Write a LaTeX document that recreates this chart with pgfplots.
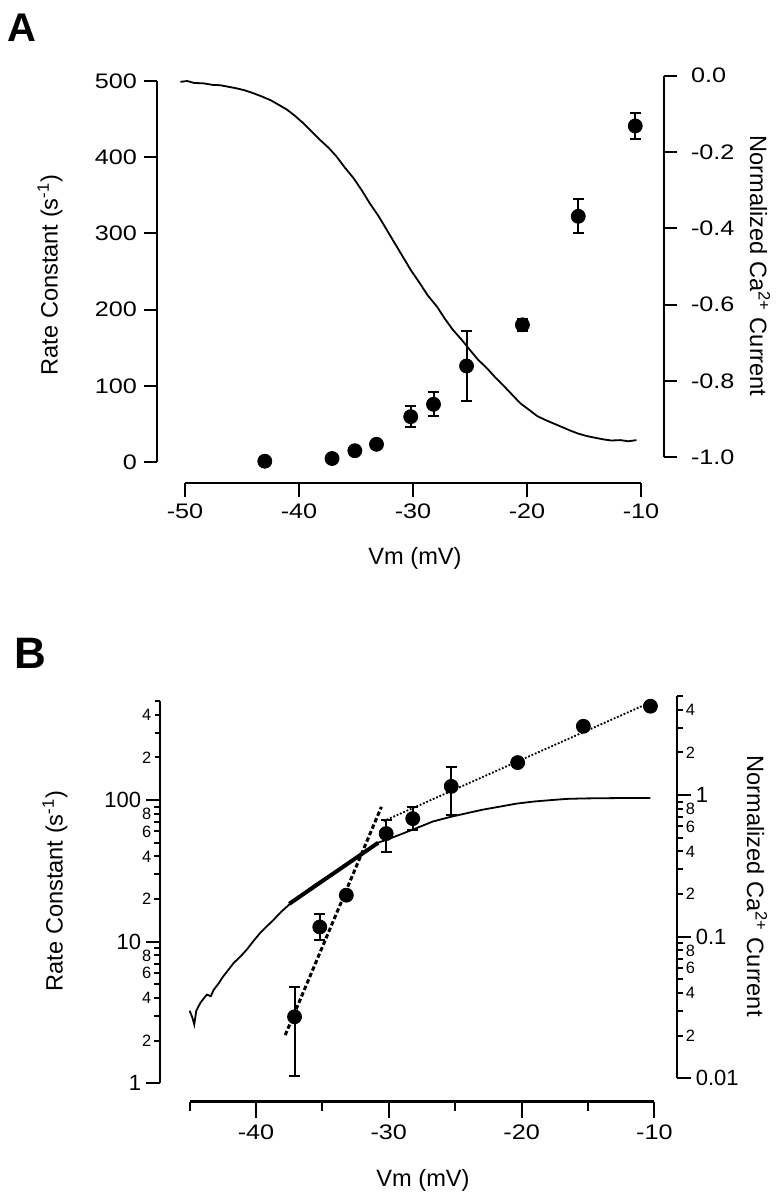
\documentclass[border=0pt]{standalone}
\usepackage{fontspec}
\setmainfont{Liberation Sans}
\newfontfamily\tickfont[FakeStretch=1.2]{Liberation Sans}
\usepackage{pgfplots}
\usepackage{pgfplotstable}
\pgfplotsset{compat=1.18}

\newcommand{\tf}{\tickfont\fontsize{10.5}{12}\selectfont}
\newcommand{\tfb}{\fontsize{11}{12}\selectfont}
\newcommand{\st}{\fontsize{8.2}{9}\selectfont}
\newcommand{\lf}{\fontsize{11.8}{14}\selectfont}

% Panel A: rate constants (s^-1) with symmetric errors
\pgfplotstableread{
x y e
-43.0 1.0 0
-37.1 4.6 0
-35.1 14.8 0
-33.2 23.2 0
-30.2 59.5 14
-28.2 75.7 15.5
-25.3 126 45.5
-20.4 180 8
-15.5 322.4 22.5
-10.5 441 16.7
}\ratea

% Panel A: normalized Ca current
\pgfplotstableread{
x y
-50.4 -0.016
-49.8 -0.014
-49.2 -0.019
-48.4 -0.020
-47.6 -0.024
-46.9 -0.025
-46.2 -0.029
-45.5 -0.033
-44.8 -0.038
-44.0 -0.046
-43.3 -0.054
-42.5 -0.064
-41.8 -0.076
-41.1 -0.088
-40.4 -0.104
-39.6 -0.125
-38.9 -0.146
-38.2 -0.167
-37.4 -0.189
-36.7 -0.212
-36.0 -0.240
-35.2 -0.269
-34.5 -0.300
-33.8 -0.334
-33.0 -0.369
-32.3 -0.404
-31.6 -0.439
-30.9 -0.474
-30.2 -0.509
-29.4 -0.544
-28.7 -0.576
-27.9 -0.605
-27.2 -0.637
-26.5 -0.666
-25.7 -0.693
-25.0 -0.719
-24.3 -0.744
-23.5 -0.767
-22.8 -0.790
-22.1 -0.811
-21.3 -0.836
-20.6 -0.858
-19.8 -0.876
-19.1 -0.892
-18.4 -0.902
-17.7 -0.911
-16.9 -0.921
-16.2 -0.930
-15.5 -0.938
-14.8 -0.944
-14.0 -0.949
-13.3 -0.953
-12.6 -0.956
-11.8 -0.955
-11.1 -0.958
-10.4 -0.955
}\curvea

% Panel B: rate constants, asymmetric errors
\pgfplotstableread{
x y ep em
-37.1 2.95 1.85 1.82
-35.2 12.7 2.9 2.4
-33.2 21.3 0 0
-30.2 58 14 15
-28.2 74 15.6 13
-25.3 125 46 47
-20.3 184 0 0
-15.35 332 0 0
-10.3 460 0 0
}\rateb

% Panel B: normalized Ca current (log)
\pgfplotstableread{
x y
-45.0 0.030
-44.8 0.027
-44.65 0.024
-44.5 0.030
-44.2 0.034
-43.9 0.037
-43.7 0.039
-43.4 0.038
-43.2 0.042
-42.8 0.047
-42.5 0.052
-42.1 0.058
-41.7 0.065
-41.2 0.072
-40.7 0.081
-40.2 0.093
-39.7 0.106
-39.2 0.118
-38.7 0.131
-38.1 0.150
-37.4 0.172
-36.5 0.200
-35.5 0.235
-34.5 0.270
-33.5 0.310
-32.5 0.360
-31.5 0.410
-30.9 0.458
-30.0 0.490
-29.2 0.524
-28.0 0.580
-26.7 0.650
-25.4 0.700
-24.1 0.746
-22.9 0.790
-21.6 0.830
-20.4 0.870
-19.1 0.900
-17.9 0.920
-16.6 0.940
-15.3 0.947
-14.1 0.950
-12.5 0.953
-10.3 0.955
}\curveb

\pgfplotsset{
  base/.style={scale only axis, clip=false, tick align=outside,
    axis line style={line width=1pt, black},
    every tick/.style={line width=1pt, black},
    ticklabel style={font=\tf}},
  errsty/.style={only marks, mark=*, mark size=3.5pt, black,
    error bars/.cd, y dir=both, y explicit,
    error mark options={rotate=90, black, mark size=2.75pt, line width=1pt},
    error bar style={line width=1pt, black}},
}

\begin{document}
\begin{tikzpicture}
\useasboundingbox (0,0) rectangle (390pt,600pt);

% ---------------- Panel A ----------------
\begin{axis}[base, at={(78.5pt,369pt)}, anchor=south west,
  width=253.5pt, height=190.5pt,
  xmin=-52.456, xmax=-7.98, ymin=0, ymax=500,
  axis x line=none, axis y line*=left,
  ytick={0,100,200,300,400,500}, yticklabels={0,100,200,300,400,500},
  major tick length=6.5pt]
\addplot[errsty] table[x=x, y=y, y error=e] \ratea;
\end{axis}

\begin{axis}[base, at={(78.5pt,371.35pt)}, anchor=south west,
  width=253.5pt, height=190.8pt,
  xmin=-52.456, xmax=-7.98, ymin=-1, ymax=0,
  axis x line=none, axis y line*=right,
  ytick={-1,-0.8,-0.6,-0.4,-0.2,0},
  yticklabels={-1.0,-0.8,-0.6,-0.4,-0.2,0.0},
  yticklabel style={xshift=3.5pt},
  major tick length=6.5pt]
\addplot[black, line width=0.9pt] table[x=x, y=y] \curvea;
\end{axis}

\begin{axis}[base, at={(92.5pt,358.5pt)}, anchor=south west,
  width=228pt, height=10pt,
  xmin=-50, xmax=-10, ymin=0, ymax=1,
  axis y line=none, axis x line*=bottom,
  xtick={-50,-40,-30,-20,-10}, xticklabels={-50,-40,-30,-20,-10},
  major tick length=7pt]
\end{axis}

% ---------------- Panel B ----------------
\begin{axis}[base, at={(80pt,58.35pt)}, anchor=south west,
  width=258.5pt, height=191.1pt,
  xmin=-47.23, xmax=-8.30, ymode=log, ymin=1, ymax=500,
  axis x line=none, axis y line*=left,
  ytick={1,10,100}, yticklabels={1,10,100},
  yticklabel style={font=\tfb, inner sep=2.2pt},
  major tick length=7pt,
  extra y ticks={2,3,4,5,6,7,8,9,20,30,40,50,60,70,80,90,200,300,400,500},
  extra y tick labels={2,,4,,6,,8,,2,,4,,6,,8,,2,,4,},
  extra y tick style={major tick length=2.75pt,
    yticklabel style={font=\st, inner sep=1.4pt}}]
\addplot[black, line width=1.5pt, dash pattern=on 2.2pt off 1.3pt] coordinates {(-37.8,2.19) (-30.56,89.6)};
\addplot[black, line width=0.9pt, dash pattern=on 0.9pt off 0.9pt] coordinates {(-30.4,71) (-10.2,495)};
\addplot[black, line width=2pt] coordinates {(-37.5,18.5) (-30.8,50)};
\addplot[errsty] table[x=x, y=y, y error plus=ep, y error minus=em] \rateb;
\end{axis}

\begin{axis}[base, at={(80pt,60.85pt)}, anchor=south west,
  width=258.5pt, height=191.1pt,
  xmin=-47.23, xmax=-8.30, ymode=log, ymin=0.01, ymax=5,
  axis x line=none, axis y line*=right,
  ytick={0.01,0.1,1}, yticklabels={0.01,0.1,1},
  yticklabel style={font=\tfb, inner sep=2.2pt},
  major tick length=7pt,
  extra y ticks={0.02,0.03,0.04,0.05,0.06,0.07,0.08,0.09,0.2,0.3,0.4,0.5,0.6,0.7,0.8,0.9,2,3,4,5},
  extra y tick labels={2,,4,,6,,8,,2,,4,,6,,8,,2,,4,},
  extra y tick style={major tick length=3pt,
    yticklabel style={font=\st, inner sep=1.2pt}}]
\addplot[black, line width=0.9pt] table[x=x, y=y] \curveb;
\end{axis}

\begin{axis}[base, at={(94.8pt,49.15pt)}, anchor=south west,
  width=232.4pt, height=10pt,
  xmin=-45, xmax=-10, ymin=0, ymax=1,
  axis y line=none, axis x line*=bottom,
  xtick={-40,-30,-20,-10}, xticklabels={-40,-30,-20,-10},
  minor xtick={-45,-35,-25,-15},
  major tick length=8pt, minor tick length=4.5pt,
  axis line style={line width=1.2pt}]
\end{axis}

% ---------------- Labels ----------------
\node[font=\bfseries\fontsize{20}{22}\selectfont] at (10.85pt,586pt) {A};
\node[font=\bfseries\fontsize{22}{25}\selectfont] at (15.4pt,273.5pt) {B};
\node[rotate=90, font=\lf] at (25pt,462.5pt) {Rate Constant (s\textsuperscript{-1})};
\node[rotate=-90, font=\lf] at (380pt,467pt) {Normalized Ca\textsuperscript{2+} Current};
\node[font=\lf] at (207.5pt,321pt) {Vm (mV)};
\node[rotate=90, font=\lf] at (27.5pt,154.5pt) {Rate Constant (s\textsuperscript{-1})};
\node[rotate=-90, font=\lf] at (378.5pt,157pt) {Normalized Ca\textsuperscript{2+} Current};
\node[font=\lf] at (211.5pt,10pt) {Vm (mV)};
\end{tikzpicture}
\end{document}
